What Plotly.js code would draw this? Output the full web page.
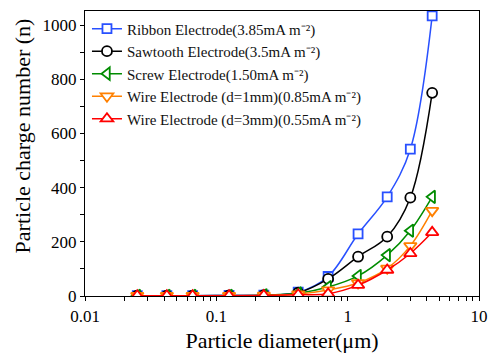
<!DOCTYPE html>
<html>
<head>
<meta charset="utf-8">
<script src="https://cdn.plot.ly/plotly-3.0.1.min.js"></script>
<style>
html,body{margin:0;padding:0;background:#fff;}
#chart{width:492px;height:360px;}
#chart svg text{font-family:"Liberation Serif","Times New Roman",serif !important;}
</style>
</head>
<body>
<div id="chart"></div>
<script>
const diameters = [0.025, 0.042, 0.066, 0.125, 0.23, 0.42, 0.71, 1.2, 2.0, 3.0, 4.4];
const ribbon   = [1, 1, 1, 2, 3, 14, 72, 229, 366, 542, 1034];
const sawtooth = [1, 1, 1, 2, 3, 12, 63, 145, 219, 363, 750];
const screw    = [1, 1, 1, 1, 3, 10, 33, 74, 151, 241, 366];
const wire1    = [1, 1, 1, 1, 2, 7, 22, 48, 102, 185, 315];
const wire3    = [1, 1, 1, 1, 2, 5, 8, 40, 96, 157, 235];
const names = [
  "Ribbon Electrode(3.85mA m\u207B\u00B2)",
  "Sawtooth Electrode(3.5mA m\u207B\u00B2)",
  "Screw Electrode(1.50mA m\u207B\u00B2)",
  "Wire Electrode (d=1mm)(0.85mA m\u207B\u00B2)",
  "Wire Electrode (d=3mm)(0.55mA m\u207B\u00B2)"
];
const xTickVals = [0.01,0.02,0.03,0.04,0.05,0.06,0.07,0.08,0.09,0.1,0.2,0.3,0.4,0.5,0.6,0.7,0.8,0.9,1,2,3,4,5,6,7,8,9,10];
const xTickText = ['0.01','','','','','','','','','0.1','','','','','','','','','1','','','','','','','','','10'];
const yTickVals = [0,100,200,300,400,500,600,700,800,900,1000];
const yTickText = ['0','','200','','400','','600','','800','','1000'];

function tr(y, name, color, symbol, size) {
  return {
    x: diameters, y: y, name: name, type: 'scatter', mode: 'lines+markers',
    line: {color: color, width: 1.5, shape: 'spline', smoothing: 1},
    marker: {symbol: symbol, size: size, color: '#ffffff', line: {color: color, width: 1.8}}
  };
}
const data = [
  tr(ribbon, names[0], '#2850ff', 'square', 9),
  tr(sawtooth, names[1], '#000000', 'circle', 10),
  tr(screw, names[2], '#008c00', 'triangle-left', 11),
  tr(wire1, names[3], '#ff8000', 'triangle-down', 11),
  tr(wire3, names[4], '#ff0000', 'triangle-up', 11)
];
const F = 'Liberation Serif';
const layout = {
  width: 492, height: 360,
  margin: {l: 85, r: 13, t: 11, b: 64},
  paper_bgcolor: '#fff', plot_bgcolor: '#fff',
  font: {family: F, color: '#000'},
  showlegend: true,
  legend: {x: 0.005, y: 0.995, xanchor: 'left', yanchor: 'top', bgcolor: 'rgba(0,0,0,0)',
           traceorder: 'normal', font: {family: F, size: 15, color: '#111'}},
  xaxis: {
    type: 'log', range: [-2, 1], tickmode: 'array', tickvals: xTickVals, ticktext: xTickText,
    showgrid: false, zeroline: false, showline: true, linecolor: '#000', linewidth: 1.2, mirror: true,
    ticks: 'outside', ticklen: 4, tickwidth: 1, tickcolor: '#000',
    tickfont: {family: F, size: 17, color: '#000'},
    title: {text: 'Particle diameter(\u03BCm)', font: {family: F, size: 22, color: '#000'}, standoff: 8}
  },
  yaxis: {
    range: [0, 1052], tickmode: 'array', tickvals: yTickVals, ticktext: yTickText,
    showgrid: false, zeroline: false, showline: true, linecolor: '#000', linewidth: 1.2, mirror: true,
    ticks: 'outside', ticklen: 4, tickwidth: 1, tickcolor: '#000',
    tickfont: {family: F, size: 17, color: '#000'}
  },
  annotations: [{
    text: 'Particle charge number (n)', textangle: -90, xref: 'paper', yref: 'paper',
    x: 0, xanchor: 'center', xshift: -63, y: 0.56, yanchor: 'middle', showarrow: false,
    font: {family: F, size: 22, color: '#000'}
  }]
};
Plotly.newPlot('chart', data, layout, {displayModeBar: false});
</script>
</body>
</html>
